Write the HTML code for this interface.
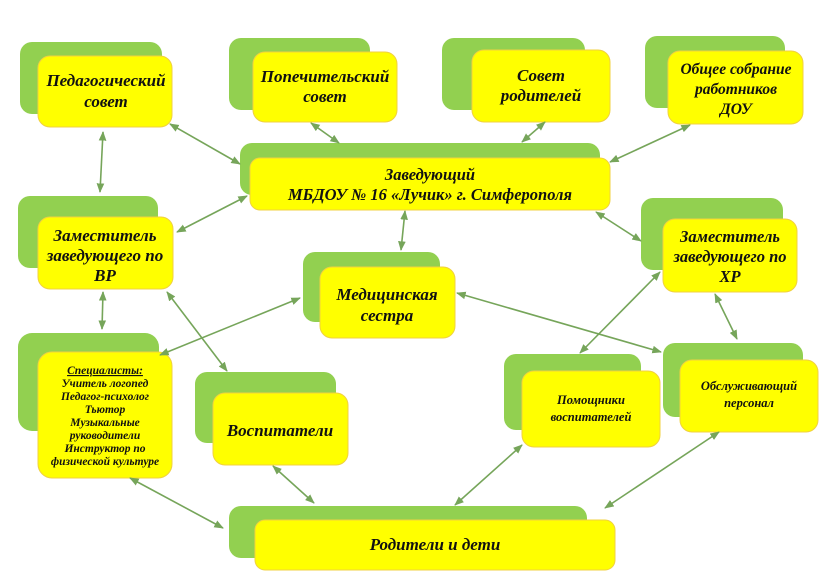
<!DOCTYPE html>
<html><head><meta charset="utf-8"><style>
html,body{margin:0;padding:0;background:#fff;}
svg{display:block;}
text{font-family:"Liberation Serif",serif;font-weight:bold;font-style:italic;fill:#111;text-anchor:middle;}
.g{fill:#92d050;}
.y{fill:#ffff00;stroke:#f0d040;stroke-width:1;}
.l{stroke:#76a55a;stroke-width:1.6;fill:none;marker-start:url(#a);marker-end:url(#a);}
</style></head><body>
<svg width="820" height="579" viewBox="0 0 820 579" xmlns="http://www.w3.org/2000/svg">
<defs><marker id="a" viewBox="0 0 10 10" refX="9" refY="5" markerWidth="6" markerHeight="6" orient="auto-start-reverse"><path d="M0,1 L10,5 L0,9 z" fill="#76a55a"/></marker></defs>

<rect class="g" x="20" y="42" width="142" height="72" rx="12"/><rect class="y" x="38" y="56" width="134" height="71" rx="12"/>
<rect class="g" x="229" y="38" width="141" height="72" rx="12"/><rect class="y" x="253" y="52" width="144" height="70" rx="12"/>
<rect class="g" x="442" y="38" width="143" height="72" rx="12"/><rect class="y" x="472" y="50" width="138" height="72" rx="12"/>
<rect class="g" x="645" y="36" width="140" height="72" rx="12"/><rect class="y" x="668" y="51" width="135" height="73" rx="12"/>
<rect class="g" x="240" y="143" width="360" height="52" rx="12"/><rect class="y" x="250" y="158" width="360" height="52" rx="10"/>
<rect class="g" x="18" y="196" width="140" height="72" rx="12"/><rect class="y" x="38" y="217" width="135" height="72" rx="12"/>
<rect class="g" x="641" y="198" width="142" height="72" rx="12"/><rect class="y" x="663" y="219" width="134" height="73" rx="12"/>
<rect class="g" x="303" y="252" width="137" height="70" rx="12"/><rect class="y" x="320" y="267" width="135" height="71" rx="12"/>
<rect class="g" x="18" y="333" width="141" height="98" rx="14"/><rect class="y" x="38" y="352" width="134" height="126" rx="14"/>
<rect class="g" x="195" y="372" width="141" height="71" rx="12"/><rect class="y" x="213" y="393" width="135" height="72" rx="12"/>
<rect class="g" x="504" y="354" width="137" height="76" rx="12"/><rect class="y" x="522" y="371" width="138" height="76" rx="12"/>
<rect class="g" x="663" y="343" width="140" height="74" rx="12"/><rect class="y" x="680" y="360" width="138" height="72" rx="12"/>
<rect class="g" x="229" y="506" width="358" height="52" rx="12"/><rect class="y" x="255" y="520" width="360" height="50" rx="10"/>

<line class="l" x1="170" y1="124" x2="240" y2="164"/>
<line class="l" x1="103" y1="132" x2="100" y2="192"/>
<line class="l" x1="311" y1="123" x2="339" y2="143"/>
<line class="l" x1="545" y1="122" x2="522" y2="142"/>
<line class="l" x1="690" y1="125" x2="610" y2="162"/>
<line class="l" x1="247" y1="196" x2="177" y2="232"/>
<line class="l" x1="405" y1="211" x2="401" y2="250"/>
<line class="l" x1="596" y1="212" x2="641" y2="241"/>
<line class="l" x1="103" y1="292" x2="102" y2="329"/>
<line class="l" x1="167" y1="292" x2="227" y2="371"/>
<line class="l" x1="300" y1="298" x2="160" y2="355"/>
<line class="l" x1="457" y1="293" x2="661" y2="352"/>
<line class="l" x1="660" y1="272" x2="580" y2="353"/>
<line class="l" x1="715" y1="294" x2="737" y2="339"/>
<line class="l" x1="130" y1="478" x2="223" y2="528"/>
<line class="l" x1="273" y1="466" x2="314" y2="503"/>
<line class="l" x1="522" y1="445" x2="455" y2="505"/>
<line class="l" x1="719" y1="432" x2="605" y2="508"/>

<text font-size="17"><tspan x="106" y="86">Педагогический</tspan><tspan x="106" y="107">совет</tspan></text>
<text font-size="17"><tspan x="325" y="82">Попечительский</tspan><tspan x="325" y="102">совет</tspan></text>
<text font-size="17"><tspan x="541" y="81">Совет</tspan><tspan x="541" y="101">родителей</tspan></text>
<text font-size="15.5"><tspan x="736" y="74">Общее собрание</tspan><tspan x="736" y="94">работников</tspan><tspan x="736" y="114">ДОУ</tspan></text>
<text font-size="16.5"><tspan x="430" y="180">Заведующий</tspan><tspan x="430" y="200">МБДОУ № 16 «Лучик» г. Симферополя</tspan></text>
<text font-size="17"><tspan x="105" y="241">Заместитель</tspan><tspan x="105" y="261">заведующего по</tspan><tspan x="105" y="281">ВР</tspan></text>
<text font-size="16.5"><tspan x="730" y="242">Заместитель</tspan><tspan x="730" y="262">заведующего по</tspan><tspan x="730" y="282">ХР</tspan></text>
<text font-size="17"><tspan x="387" y="300">Медицинская</tspan><tspan x="387" y="321">сестра</tspan></text>
<text font-size="11.5"><tspan x="105" y="374" text-decoration="underline">Специалисты:</tspan><tspan x="105" y="387">Учитель логопед</tspan><tspan x="105" y="400">Педагог-психолог</tspan><tspan x="105" y="413">Тьютор</tspan><tspan x="105" y="426">Музыкальные</tspan><tspan x="105" y="439">руководители</tspan><tspan x="105" y="452">Инструктор по</tspan><tspan x="105" y="465">физической культуре</tspan></text>
<text font-size="17" x="280" y="436">Воспитатели</text>
<text font-size="12.5"><tspan x="591" y="404">Помощники</tspan><tspan x="591" y="421">воспитателей</tspan></text>
<text font-size="12.5"><tspan x="749" y="390">Обслуживающий</tspan><tspan x="749" y="407">персонал</tspan></text>
<text font-size="17" x="435" y="550">Родители и дети</text>
</svg>
</body></html>
